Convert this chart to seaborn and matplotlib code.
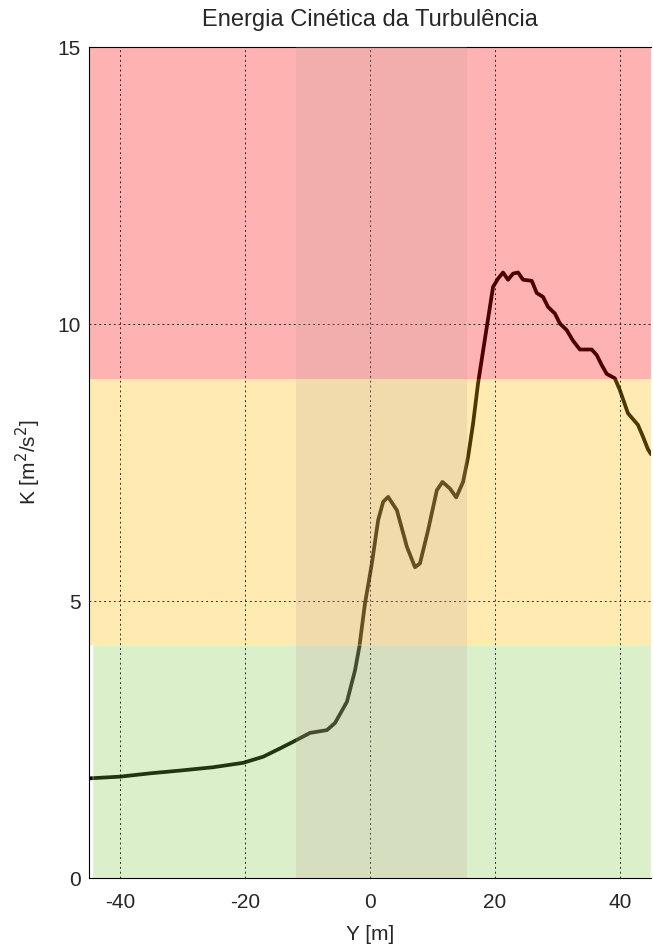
import numpy as np
import pandas as pd
import seaborn as sns
import matplotlib.pyplot as plt

# perfil
y_pos = [-44.8, -40.0, -35.2, -30.4, -25.1, -20.3, -17.1, -14.4, -12.3, -9.6,
         -6.9, -5.6, -3.7, -2.4, -1.7, -0.8, 0.3, 1.3, 2.1, 2.9,
         4.3, 5.9, 7.2, 8.0, 9.3, 10.7, 11.6, 12.8, 13.8, 14.9,
         15.7, 16.5, 17.3, 18.7, 19.7, 20.5, 21.3, 22.1, 22.9, 23.7,
         24.5, 25.9, 26.7, 27.7, 28.5, 29.6, 30.4, 31.5, 32.5, 33.6,
         35.5, 36.3, 37.1, 37.9, 39.2, 40.0, 41.3, 42.9, 43.7, 44.5, 45.0]
k_val = [1.80, 1.83, 1.89, 1.94, 2.00, 2.08, 2.19, 2.34, 2.46, 2.62,
         2.67, 2.80, 3.18, 3.75, 4.18, 4.96, 5.68, 6.46, 6.79, 6.88,
         6.64, 5.98, 5.61, 5.68, 6.28, 7.00, 7.15, 7.03, 6.87, 7.15,
         7.60, 8.20, 8.93, 9.95, 10.67, 10.82, 10.93, 10.80, 10.91, 10.93,
         10.80, 10.78, 10.56, 10.49, 10.31, 10.19, 10.01, 9.89, 9.70, 9.54,
         9.54, 9.44, 9.26, 9.10, 9.02, 8.81, 8.39, 8.18, 7.97, 7.74, 7.65]

# faixas de classificacao
green_lim = (0, 4.2)
yellow_lim = (4.2, 9.0)
red_lim = (9.0, 15.0)
zona = (-11.8, 15.5)

df = pd.DataFrame({'Y': y_pos, 'K': k_val})

sns.set_style('white')
plt.rcParams['font.family'] = ['Liberation Sans', 'DejaVu Sans']
plt.rcParams['axes.unicode_minus'] = False

fig = plt.figure(figsize=(6.53, 9.52), dpi=100)
ax = fig.add_axes([0.1363, 0.0777, 0.8607, 0.8729])

sns.lineplot(data=df, x='Y', y='K', color='black', linewidth=2.7, ax=ax, zorder=1)

ax.axhspan(*green_lim, xmin=0.007, facecolor=(0.5, 0.78, 0.25), alpha=0.27,
           edgecolor='white', linewidth=1.2, zorder=2)
ax.axhspan(*yellow_lim, facecolor=(1.0, 0.75, 0.0), alpha=0.3, linewidth=0, zorder=2)
ax.axhspan(*red_lim, facecolor=(1.0, 0.0, 0.0), alpha=0.3, linewidth=0, zorder=2)
ax.axvspan(*zona, facecolor=(0.76, 0.64, 0.6), alpha=0.22, linewidth=0, zorder=3)

ax.set_xlim(-45, 45)
ax.set_ylim(0, 15)
ax.set_xticks([-40, -20, 0, 20, 40])
ax.set_yticks([0, 5, 10, 15])
ax.grid(True, color='black', linestyle=(0, (2, 3)), linewidth=0.7, alpha=0.8, zorder=4)
ax.set_axisbelow(False)
ax.tick_params(axis='x', length=0, labelsize=15, pad=11)
ax.tick_params(axis='y', length=0, labelsize=15, pad=6)

for s in ax.spines.values():
    s.set_color('black')
    s.set_linewidth(0.8)
ax.spines['right'].set_visible(False)

ax.set_title('Energia Cinética da Turbulência', fontsize=17, pad=15)
ax.set_xlabel('Y [m]', fontsize=15, labelpad=9)
ax.set_ylabel('K [m$^2$/s$^2$]', fontsize=15, labelpad=10)

fig.savefig('out.png', dpi=100)
